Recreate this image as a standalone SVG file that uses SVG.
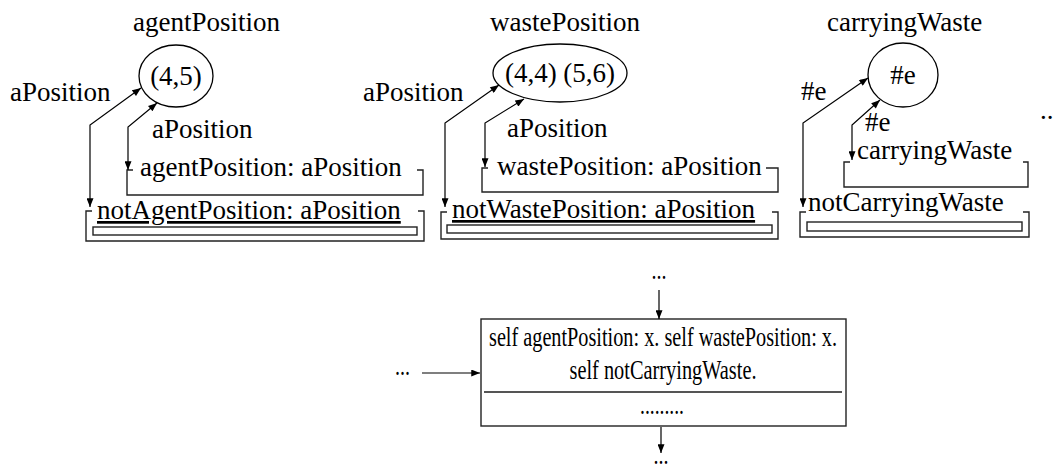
<svg xmlns="http://www.w3.org/2000/svg" width="1053" height="468" viewBox="0 0 1053 468">
  <style>
    text { font-family: "Liberation Serif", "Times New Roman", serif; font-size: 27px; fill: #000; }
    .mid { text-anchor: middle; }
    .ulined { text-decoration: underline; }
    .place { fill: none; stroke: #000; stroke-width: 1.3; }
    .frame { fill: none; stroke: #222; stroke-width: 1.4; }
    .arc { fill: none; stroke: #000; stroke-width: 1.2; }
    .sep { stroke: #555; stroke-width: 2; }
  </style>
  <defs>
    <marker id="head" viewBox="0 0 10 8" refX="10" refY="4" markerWidth="10" markerHeight="7" markerUnits="userSpaceOnUse" orient="auto-start-reverse">
      <path d="M0,0 L10,4 L0,8 Z" fill="#000"/>
    </marker>
  </defs>

  <!-- place: agentPosition -->
  <g id="agentPosition">
    <text x="133" y="31">agentPosition</text>
    <ellipse class="place" cx="176" cy="76" rx="37" ry="31"/>
    <text class="mid" x="176" y="85">(4,5)</text>
    <text x="10" y="101">aPosition</text>
    <text x="152" y="138">aPosition</text>
    <text x="140" y="176">agentPosition: aPosition</text>
    <path class="frame" d="M133 170 H127 V195 H423 V170 H417"/>
    <text class="ulined" x="97" y="219">notAgentPosition: aPosition</text>
    <path class="frame" d="M92 211 H86 V241 H424 V211 H418"/>
    <rect class="frame" x="93" y="227" width="324" height="8"/>
  </g>

  <!-- place: wastePosition -->
  <g id="wastePosition">
    <text x="490" y="31">wastePosition</text>
    <ellipse class="place" cx="560" cy="73" rx="67" ry="29"/>
    <text class="mid" x="560" y="82">(4,4) (5,6)</text>
    <text x="363" y="101">aPosition</text>
    <text x="507" y="137">aPosition</text>
    <text x="497" y="175">wastePosition: aPosition</text>
    <path class="frame" d="M488 168 H482 V192 H778 V168 H766"/>
    <text class="ulined" x="452" y="218">notWastePosition: aPosition</text>
    <path class="frame" d="M447 212 H441 V239 H778 V212 H772"/>
    <rect class="frame" x="447" y="225" width="325" height="8"/>
  </g>

  <!-- place: carryingWaste -->
  <g id="carryingWaste">
    <text x="827" y="31">carryingWaste</text>
    <ellipse class="place" cx="903" cy="75" rx="35" ry="32"/>
    <text class="mid" x="903" y="84">#e</text>
    <text x="801" y="100">#e</text>
    <text x="865" y="131">#e</text>
    <text x="857" y="159">carryingWaste</text>
    <path class="frame" d="M850 162 H844 V187 H1028 V162 H1023"/>
    <text x="808" y="211">notCarryingWaste</text>
    <path class="frame" d="M806 212 H800 V237 H1029 V212 H1023"/>
    <rect class="frame" x="807" y="222" width="215" height="9"/>
    <text x="1040" y="119">..</text>
  </g>

  <!-- transition -->
  <g id="transition">
    <rect class="frame" x="481" y="319" width="365" height="107"/>
    <text class="mid" x="663" y="346" textLength="348" lengthAdjust="spacingAndGlyphs">self agentPosition: x. self wastePosition: x.</text>
    <text class="mid" x="663" y="379" textLength="187" lengthAdjust="spacingAndGlyphs">self notCarryingWaste.</text>
    <line class="sep" x1="484" y1="392" x2="842" y2="392"/>
    <text class="mid" x="662" y="414" textLength="44" lengthAdjust="spacingAndGlyphs">.........</text>
  </g>

  <!-- elided neighbours -->
  <g id="elided">
    <text class="mid" x="659" y="279" textLength="15" lengthAdjust="spacingAndGlyphs">...</text>
    <text x="395" y="375" textLength="15" lengthAdjust="spacingAndGlyphs">...</text>
    <text class="mid" x="661" y="464" textLength="15" lengthAdjust="spacingAndGlyphs">...</text>
  </g>

  <!-- arcs -->
  <g id="connectors">
    <polyline class="arc" points="90,207 90,125 141,88" marker-start="url(#head)" marker-end="url(#head)"/>
    <polyline class="arc" points="128,170 128,127 157,103" marker-start="url(#head)" marker-end="url(#head)"/>
    <polyline class="arc" points="445,207 445,123 499,85" marker-start="url(#head)" marker-end="url(#head)"/>
    <polyline class="arc" points="485,167 485,123 524,99" marker-start="url(#head)" marker-end="url(#head)"/>
    <polyline class="arc" points="803,207 803,123 868,78" marker-start="url(#head)" marker-end="url(#head)"/>
    <polyline class="arc" points="852,160 852,125 880,100" marker-start="url(#head)" marker-end="url(#head)"/>
    <line class="arc" x1="659" y1="290" x2="659" y2="319" marker-end="url(#head)"/>
    <line class="arc" x1="422" y1="373" x2="480" y2="373" marker-end="url(#head)"/>
    <line class="arc" x1="661" y1="427" x2="661" y2="453" marker-end="url(#head)"/>
  </g>
</svg>
